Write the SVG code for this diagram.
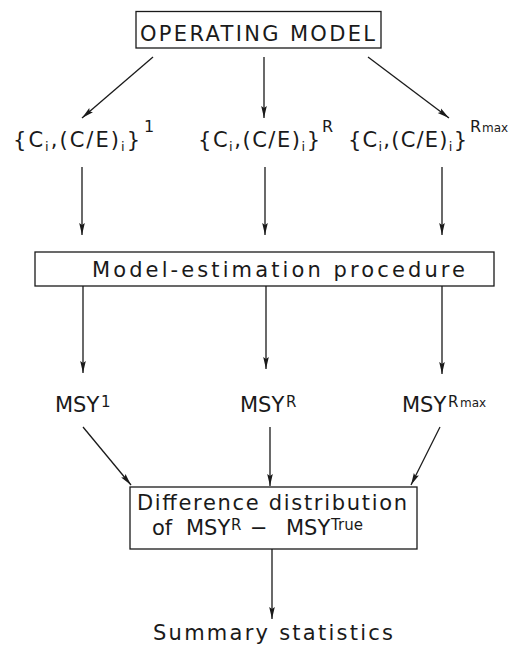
<svg xmlns="http://www.w3.org/2000/svg" width="531" height="650" viewBox="0 0 531 650">
<defs>
<style>
text{font-family:"DejaVu Sans","Liberation Sans",sans-serif;font-size:21px;fill:#1a1a1a}
.box{fill:#fff;stroke:#1a1a1a;stroke-width:1.3}
.sub{font-size:13px}
.sup{font-size:16px}
.msup{font-size:15px}
.tiny{font-size:12px}
#connectors path{fill:none;stroke:#1a1a1a;stroke-width:1.3;marker-end:url(#ah)}
</style>
<marker id="ah" viewBox="0 0 12 8" refX="12" refY="4" markerWidth="12" markerHeight="8" markerUnits="userSpaceOnUse" orient="auto">
<path d="M0,1.2 L12,4 L0,6.8 L2,4 Z" fill="#1a1a1a"/>
</marker>
</defs>
<rect width="531" height="650" fill="#fff"/>
<g id="connectors">
<path d="M153,57 L82,118"/>
<path d="M264,57 L264,118"/>
<path d="M368,57 L449,118"/>
<path d="M82,167 L82,235"/>
<path d="M265,167 L265,235"/>
<path d="M442,167 L442,235"/>
<path d="M83,286 L83,373"/>
<path d="M266,286 L266,369"/>
<path d="M442,286 L442,374"/>
<path d="M83,427 L131,485"/>
<path d="M270,427 L270,486"/>
<path d="M440,427 L411,485"/>
<path d="M272,549 L272,619"/>
</g>
<g id="operating-model">
<rect class="box" x="136" y="11.5" width="245" height="36.5"/>
<text x="140" y="41" textLength="235" lengthAdjust="spacing">OPERATING MODEL</text>
</g>
<g id="set-1">
<text x="13" y="147" textLength="127" lengthAdjust="spacing">{C<tspan class="sub" dy="4">i</tspan><tspan dy="-4">,(C/E)</tspan><tspan class="sub" dy="4">i</tspan><tspan dy="-4">}</tspan></text>
<text x="144" y="132" class="sup">1</text>
</g>
<g id="set-R">
<text x="198" y="147" textLength="122" lengthAdjust="spacing">{C<tspan class="sub" dy="4">i</tspan><tspan dy="-4">,(C/E)</tspan><tspan class="sub" dy="4">i</tspan><tspan dy="-4">}</tspan></text>
<text x="322" y="132" class="sup">R</text>
</g>
<g id="set-Rmax">
<text x="348" y="147" textLength="119" lengthAdjust="spacing">{C<tspan class="sub" dy="4">i</tspan><tspan dy="-4">,(C/E)</tspan><tspan class="sub" dy="4">i</tspan><tspan dy="-4">}</tspan></text>
<text x="470" y="132" class="sup">R</text>
<text x="482" y="132" class="tiny">max</text>
</g>
<g id="model-estimation">
<rect class="box" x="35" y="252" width="459" height="34"/>
<text x="92" y="277" textLength="373" lengthAdjust="spacing">Model-estimation procedure</text>
</g>
<g id="msy-1">
<text x="55" y="412">MSY<tspan class="msup" x="101" dy="-5">1</tspan></text>
</g>
<g id="msy-R">
<text x="240" y="412">MSY<tspan class="msup" x="286" dy="-5">R</tspan></text>
</g>
<g id="msy-Rmax">
<text x="402" y="412">MSY<tspan class="msup" x="448" dy="-5">R</tspan><tspan class="tiny" x="460">max</tspan></text>
</g>
<g id="difference">
<rect class="box" x="130" y="487" width="287" height="62"/>
<text x="137" y="510" textLength="270" lengthAdjust="spacing">Difference distribution</text>
<text y="535"><tspan x="152">of</tspan><tspan x="186">MSY</tspan><tspan class="msup" x="231" dy="-5">R</tspan><tspan x="250" dy="5">−</tspan><tspan x="286">MSY</tspan><tspan class="msup" x="331" dy="-5">True</tspan></text>
</g>
<g id="summary">
<text x="153" y="640" textLength="240" lengthAdjust="spacing">Summary statistics</text>
</g>
</svg>
